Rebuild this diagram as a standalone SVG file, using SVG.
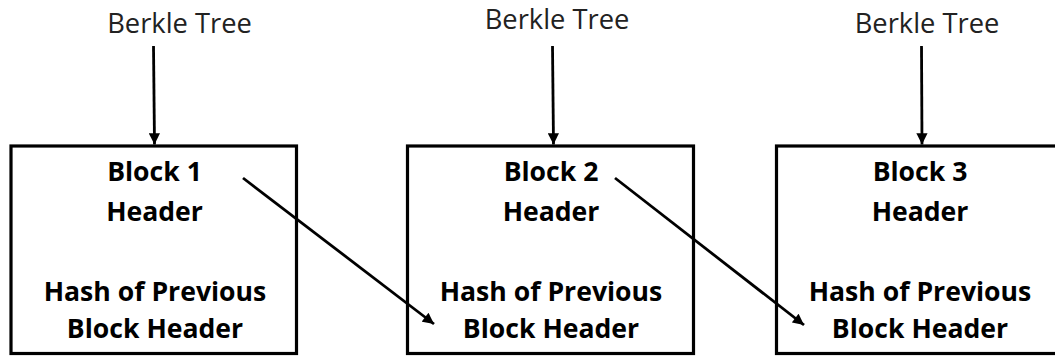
<svg xmlns="http://www.w3.org/2000/svg" width="1055" height="358" viewBox="0 0 1055 358">
  <style>
    .box { fill: #ffffff; stroke: #000000; stroke-width: 3.2; }
    .src { font-family: "Open Sans", "Liberation Sans", sans-serif; font-size: 27.3px; fill: #222222; text-anchor: middle; }
    .lbl { font-family: "Open Sans", "Liberation Sans", sans-serif; font-size: 26.6px; font-weight: bold; fill: #000000; text-anchor: middle; }
    .link { stroke: #000000; stroke-width: 2.8; fill: none; marker-end: url(#head); }
  </style>
  <defs>
    <marker id="head" viewBox="0 0 10 10" refX="10" refY="5" markerWidth="4.5" markerHeight="4" markerUnits="strokeWidth" orient="auto">
      <path d="M0,0 L10,5 L0,10 Z" fill="#000000"/>
    </marker>
  </defs>
  <rect width="1055" height="358" fill="#ffffff"/>

  <!-- blocks -->
  <g id="block1">
    <rect class="box" x="11" y="146" width="285.5" height="207.5"/>
    <text class="lbl" x="154.5" y="181">Block 1</text>
    <text class="lbl" x="154.5" y="221">Header</text>
    <text class="lbl" x="155" y="301">Hash of Previous</text>
    <text class="lbl" x="155" y="338">Block Header</text>
  </g>
  <g id="block2">
    <rect class="box" x="407.5" y="146" width="286" height="207.5"/>
    <text class="lbl" x="551" y="181">Block 2</text>
    <text class="lbl" x="551" y="221">Header</text>
    <text class="lbl" x="551" y="301">Hash of Previous</text>
    <text class="lbl" x="551" y="338">Block Header</text>
  </g>
  <g id="block3">
    <rect class="box" x="776.5" y="146" width="286" height="207.5"/>
    <text class="lbl" x="920" y="181">Block 3</text>
    <text class="lbl" x="920" y="221">Header</text>
    <text class="lbl" x="920" y="301">Hash of Previous</text>
    <text class="lbl" x="920" y="338">Block Header</text>
  </g>

  <!-- tree sources -->
  <g id="tree1"><text class="src" x="179.5" y="33">Berkle Tree</text></g>
  <g id="tree2"><text class="src" x="557" y="29">Berkle Tree</text></g>
  <g id="tree3"><text class="src" x="927" y="33">Berkle Tree</text></g>

  <!-- connectors -->
  <g id="connectors">
    <line class="link" x1="153.5" y1="46" x2="154.5" y2="144.5"/>
    <line class="link" x1="552.5" y1="46" x2="553.5" y2="144.5"/>
    <line class="link" x1="921.5" y1="46" x2="922" y2="144.5"/>
    <line class="link" x1="243" y1="178" x2="434" y2="324"/>
    <line class="link" x1="615" y1="178" x2="804" y2="325"/>
  </g>
</svg>
